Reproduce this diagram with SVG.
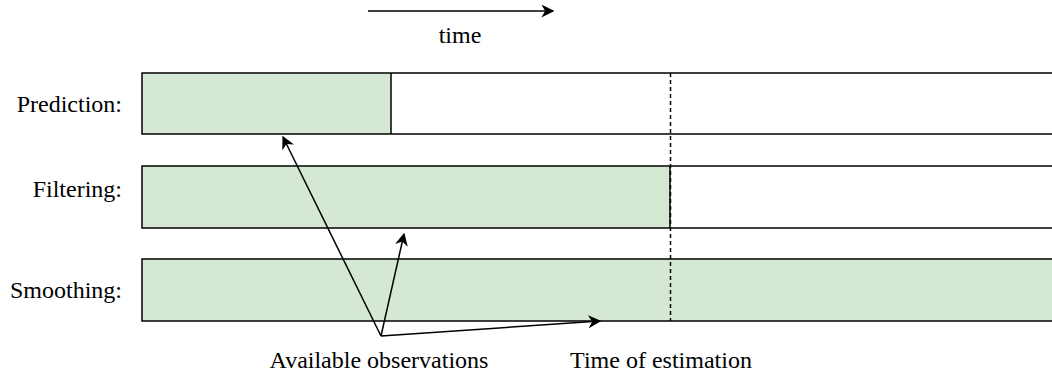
<svg xmlns="http://www.w3.org/2000/svg" width="1052" height="381" viewBox="0 0 1052 381">
<style>
text{font-family:"Liberation Serif","Times New Roman",Times,serif;font-size:24px;fill:#000}
.g{fill:#d5e8d4;stroke:none}
.b{fill:none;stroke:#000;stroke-width:1.5}
.c{fill:none;stroke:#000;stroke-width:1.5}
</style>
<defs>
<marker id="ah" viewBox="0 0 10 10" refX="9" refY="5" markerWidth="13" markerHeight="13" markerUnits="userSpaceOnUse" orient="auto">
<path d="M0,0 L10,5 L0,10 L3,5 Z" fill="#000"/>
</marker>
<marker id="ah2" viewBox="0 0 10 10" refX="9" refY="5" markerWidth="13" markerHeight="13" markerUnits="userSpaceOnUse" orient="auto">
<path d="M0,0 L10,5 L0,10 L3,5 Z" fill="#000"/>
</marker>
</defs>
<g id="time-axis">
<line class="c" x1="368" y1="11" x2="553" y2="11" marker-end="url(#ah2)"/>
<text x="460" y="43" text-anchor="middle">time</text>
</g>
<g id="prediction">
<rect class="g" x="142" y="73" width="249" height="61"/>
<path class="b" d="M1060,73 H142 V134 H1060 M391,73 V134"/>
<text x="122" y="112" text-anchor="end">Prediction:</text>
</g>
<g id="filtering">
<rect class="g" x="142" y="166" width="528" height="62"/>
<path class="b" d="M1060,166 H142 V228 H1060 M670,166 V228"/>
<text x="122" y="197" text-anchor="end">Filtering:</text>
</g>
<g id="smoothing">
<rect class="g" x="142" y="259" width="918" height="62"/>
<path class="b" d="M1060,259 H142 V321 H1060"/>
<text x="122" y="298" text-anchor="end">Smoothing:</text>
</g>
<g id="estimation-time">
<line x1="670.5" y1="73" x2="670.5" y2="321" stroke="#000" stroke-width="1.5" stroke-dasharray="4,3"/>
<text x="661" y="368" text-anchor="middle">Time of estimation</text>
</g>
<g id="observations">
<text x="379" y="368" text-anchor="middle">Available observations</text>
</g>
<g id="connectors">
<line class="c" x1="381" y1="336" x2="283" y2="137" marker-end="url(#ah)"/>
<line class="c" x1="381" y1="336" x2="404" y2="234" marker-end="url(#ah)"/>
<line class="c" x1="381" y1="336" x2="600" y2="321" marker-end="url(#ah)"/>
</g>
</svg>
